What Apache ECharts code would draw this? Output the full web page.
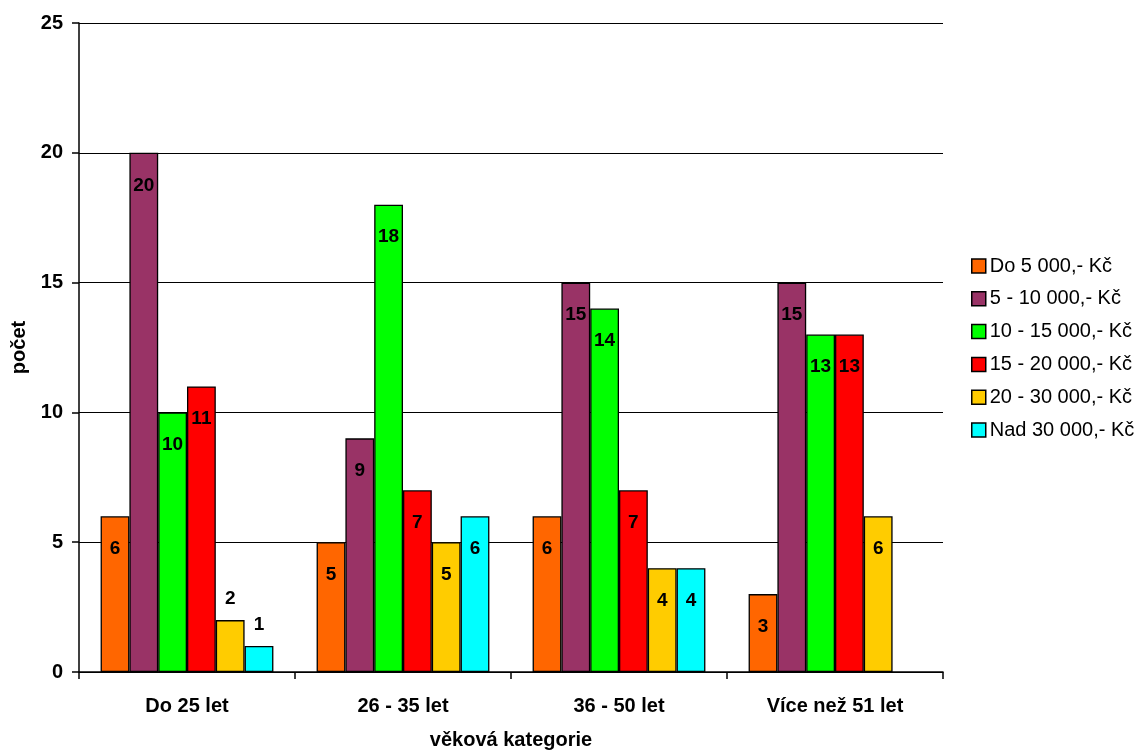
<!DOCTYPE html>
<html>
<head>
<meta charset="utf-8">
<script src="https://cdn.jsdelivr.net/npm/echarts@6/dist/echarts.min.js"></script>
<style>
  html, body { margin: 0; padding: 0; background: #fff; }
  #chart { width: 1143px; height: 755px; }
</style>
</head>
<body>
<div id="chart"></div>
<script>
// Age groups on the x axis
const categories = ['Do 25 let', '26 - 35 let', '36 - 50 let', 'Více než 51 let'];

// Income bands (one series each)
const seriesNames = ['Do 5 000,- Kč', '5 - 10 000,- Kč', '10 - 15 000,- Kč', '15 - 20 000,- Kč', '20 - 30 000,- Kč', 'Nad 30 000,- Kč'];
const do5000 = [6, 5, 6, 3];
const od5do10 = [20, 9, 15, 15];
const od10do15 = [10, 18, 14, 13];
const od15do20 = [11, 7, 7, 13];
const od20do30 = [2, 5, 4, 6];
const nad30 = [1, 6, 4, null];
const seriesValues = [do5000, od5do10, od10do15, od15do20, od20do30, nad30];
const colors = ['#FF6600', '#993366', '#00FF00', '#FF0000', '#FFCC00', '#00FFFF'];

const FONT = '"Liberation Sans", Arial, sans-serif';

const series = seriesNames.map((name, i) => ({
  name: name,
  type: 'bar',
  barGap: '0%',
  barCategoryGap: '20%',
  itemStyle: { color: colors[i], borderColor: '#000', borderWidth: 1.3 },
  label: {
    show: true,
    position: 'insideTop',
    distance: 23,
    color: '#000',
    fontFamily: FONT,
    fontWeight: 'bold',
    fontSize: 19
  },
  data: seriesValues[i].map(v => {
    if (v === null) return null;
    // short bars carry their value above the bar
    if (v <= 2) return { value: v, label: { position: 'top', distance: 12 } };
    return v;
  })
}));

const chart = echarts.init(document.getElementById('chart'), null, { renderer: 'canvas' });
chart.setOption({
  animation: false,
  backgroundColor: '#fff',
  textStyle: { fontFamily: FONT },
  grid: { left: 79, right: 200, top: 23, bottom: 79, containLabel: false },
  legend: {
    orient: 'vertical',
    left: 966,
    top: 251,
    itemWidth: 14,
    itemHeight: 14,
    itemGap: 12.8,
    icon: 'rect',
    textStyle: { fontFamily: FONT, fontSize: 20, lineHeight: 20, color: '#000', padding: [0, 0, 0, -1] },
    data: seriesNames.map(n => ({ name: n, itemStyle: { borderColor: '#000', borderWidth: 1.5 } }))
  },
  xAxis: {
    type: 'category',
    data: categories,
    name: 'věková kategorie',
    nameLocation: 'middle',
    nameGap: 58,
    nameTextStyle: { fontFamily: FONT, fontWeight: 'bold', fontSize: 20, color: '#000' },
    axisLine: { lineStyle: { color: '#000', width: 1.5 } },
    axisTick: { show: true, length: 7, lineStyle: { color: '#000', width: 1.5 } },
    axisLabel: { fontFamily: FONT, fontWeight: 'bold', fontSize: 20, color: '#000', margin: 24 }
  },
  yAxis: {
    type: 'value',
    min: 0,
    max: 25,
    interval: 5,
    name: 'počet',
    nameLocation: 'middle',
    nameGap: 50,
    nameRotate: 90,
    nameTextStyle: { fontFamily: FONT, fontWeight: 'bold', fontSize: 20, color: '#000' },
    axisLine: { show: true, lineStyle: { color: '#000', width: 1.5 } },
    axisTick: { show: true, length: 7, lineStyle: { color: '#000', width: 1.5 } },
    axisLabel: { fontFamily: FONT, fontWeight: 'bold', fontSize: 20, color: '#000', margin: 16 },
    splitLine: { show: true, lineStyle: { color: '#000', width: 1 } }
  },
  series: series
});
</script>
</body>
</html>
